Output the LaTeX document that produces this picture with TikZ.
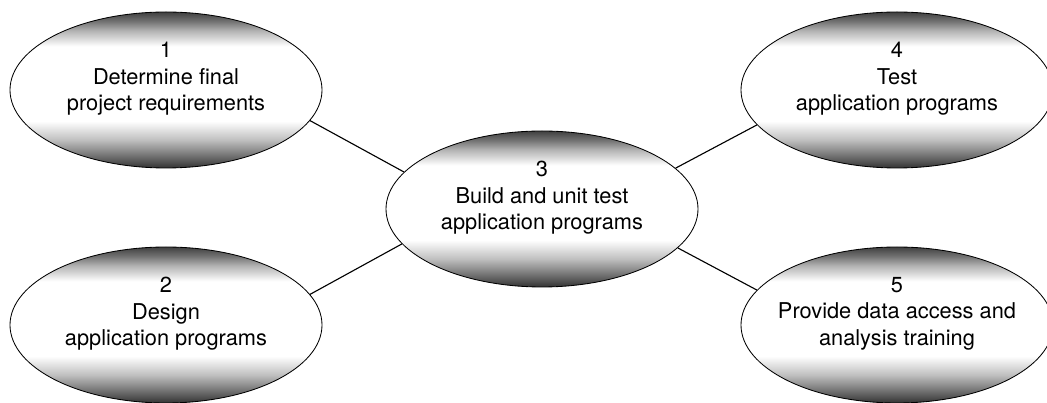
\documentclass[tikz,border=0pt]{standalone}
\usepackage{fontspec}
\setmainfont{TeX Gyre Heros}
\usetikzlibrary{shapes.geometric}

\pgfdeclareverticalshading{ovalshade}{100bp}{
    color(0bp)=(black!80);
    color(25bp)=(black!80);
    color(29bp)=(black!55);
    color(34bp)=(black!25);
    color(40bp)=(white);
    color(64bp)=(white);
    color(69bp)=(black!30);
    color(72bp)=(black!55);
    color(75bp)=(black!75);
    color(100bp)=(black!75)}

\begin{document}
\begin{tikzpicture}[
    oval/.style={
        ellipse,
        draw,
        line width=0.6pt,
        inner sep=0pt,
        minimum width=7.8cm,
        minimum height=3.9cm,
        shading=ovalshade
    },
    txt/.style={
        align=center,
        yshift=2.8mm,
        font=\fontsize{15.5}{19}\selectfont
    },
    link/.style={
        line width=0.8pt
    }
]
    \useasboundingbox (0,0) rectangle (26.175,10.075);

    \node[oval, label={[txt]center:1\\Determine final\\project requirements}]
        (requirements) at (4.15,7.825) {};

    \node[oval, label={[txt]center:2\\Design\\application programs}]
        (design) at (4.15,1.95) {};

    \node[oval, label={[txt]center:3\\Build and unit test\\application programs}]
        (build) at (13.55,4.85) {};

    \node[oval, label={[txt]center:4\\Test\\application programs}]
        (testing) at (22.425,7.825) {};

    \node[oval, label={[txt]center:5\\Provide data access and\\analysis training}]
        (training) at (22.425,1.95) {};

    % spojnice k prostredni elipse
    \draw[link] (requirements.-12) -- (build.165);
    \draw[link] (design.12) -- (build.-166);
    \draw[link] (build.17) -- (testing.-166);
    \draw[link] (build.-16) -- (training.166);
\end{tikzpicture}
\end{document}
